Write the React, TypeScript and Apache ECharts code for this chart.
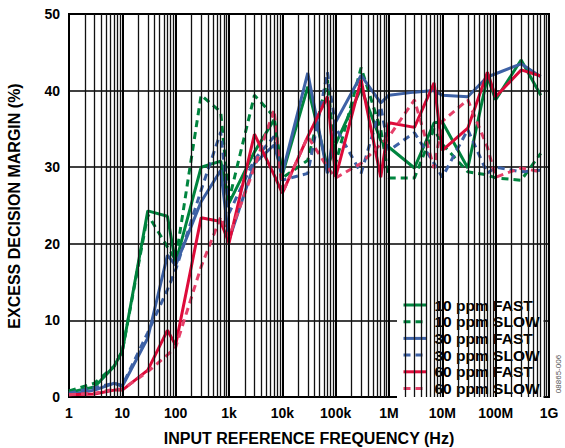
import React, { useEffect, useRef } from "react";
import * as echarts from "echarts";

const FREQS = [1, 3, 7, 10, 30, 70, 100, 300, 700, 1e3, 3e3, 7e3, 1e4, 3e4, 7e4, 1e5, 3e5, 7e5, 1e6, 3e6, 7e6, 1e7, 3e7, 7e7, 1e8, 3e8, 7e8];

const PPM10_FAST = [0.6, 1.3, 4, 6, 24.3, 23.6, 17.5, 30, 30.8, 25.3, 32, 36.2, 29, 40.5, 30, 33, 40.3, 33.5, 32.6, 29.9, 35.8, 35.9, 29.9, 41.8, 38.8, 44, 39.4];
const PPM10_SLOW = [0.8, 1.8, 4, 6, 23.8, 19.6, 17.9, 39.4, 37.2, 25.7, 39.4, 36.6, 28.6, 30.9, 41.4, 30.5, 43, 34.9, 28.6, 28.6, 35, 33, 29.4, 29, 28.6, 28.3, 31.8];
const PPM30_FAST = [0.3, 0.9, 1.8, 1.4, 7.7, 18.5, 17.2, 25.5, 29.6, 20.5, 30.5, 32.9, 29.2, 42.3, 29.2, 35.9, 42, 38.4, 39.4, 39.8, 40, 39.4, 39.2, 41.8, 42.2, 43.5, 41.8];
const PPM30_SLOW = [0.5, 1.2, 1.8, 1.5, 8.4, 14, 16.6, 27, 34.6, 24, 31, 34, 28.3, 29.2, 42.4, 35.2, 29.2, 37.9, 32.2, 34.5, 30.5, 28.7, 34.9, 29.2, 30, 29.4, 29.6];
const PPM60_FAST = [0.3, 0.4, 0.9, 0.9, 3.5, 8.7, 6.8, 23.4, 22.9, 20.1, 34.3, 29, 26.6, 34, 39.2, 28.7, 41.4, 28.7, 35.8, 35.2, 41, 32.2, 35.1, 42.4, 39.2, 42.7, 41.9];
const PPM60_SLOW = [0.3, 0.5, 1, 1, 3.3, 5.5, 6.5, 17, 23.5, 20.9, 30, 37.5, 26.6, 34, 30, 28.6, 30.5, 33, 34, 38.8, 29.9, 36, 38.8, 32.6, 28.7, 29.9, 29.4];

const SERIES_NAMES = ["10 ppm FAST", "10 ppm SLOW", "30 ppm FAST", "30 ppm SLOW", "60 ppm FAST", "60 ppm SLOW"];
const X_TICK_LABELS = ["1", "10", "100", "1k", "10k", "100k", "1M", "10M", "100M", "1G"];
const Y_MIN = 0;
const Y_MAX = 50;
const Y_STEP = 10;

const FONT = "'Liberation Sans', Arial, Helvetica, sans-serif";

export default function App() {
  const ref = useRef<HTMLDivElement>(null);

  useEffect(() => {
    document.body.style.margin = "0";
    if (!ref.current) return;
    const chart = echarts.init(ref.current, null, { renderer: "svg" });

    const minorLines: any[] = [];
    const majorLines: any[] = [];
    for (let d = 0; d < 9; d++) {
      const base = Math.pow(10, d);
      for (let m = 2; m <= 9; m++) minorLines.push({ xAxis: m * base });
    }
    for (let d = 1; d < 9; d++) majorLines.push({ xAxis: Math.pow(10, d) });

    const green = "#00853f";
    const blue = "#3e62a6";
    const red = "#de0b3a";
    const redLight = "#e6416a";

    const mk = (name: string, vals: number[], color: string, dashed: boolean) => ({
      name,
      type: "line",
      data: FREQS.map((f, i) => [f, vals[i]]),
      symbol: "none",
      showSymbol: false,
      lineStyle: { color, width: 3, type: dashed ? [7, 5] : "solid" },
      itemStyle: { color },
      z: 3,
    });

    const option: any = {
      animation: false,
      backgroundColor: "#fff",
      grid: {
        left: 69,
        right: 16,
        top: 14,
        bottom: 51,
        show: true,
        borderColor: "#000",
        borderWidth: 2,
        backgroundColor: "transparent",
      },
      xAxis: {
        type: "log",
        logBase: 10,
        min: 1,
        max: 1e9,
        splitNumber: 9,
        axisLine: { show: false },
        axisTick: { show: false },
        splitLine: { show: false },
        axisLabel: {
          color: "#000",
          fontSize: 14,
          fontWeight: "bold",
          fontFamily: FONT,
          margin: 9,
          hideOverlap: false,
          showMinLabel: true,
          showMaxLabel: true,
          formatter: (v: number) => X_TICK_LABELS[Math.round(Math.log10(v))] ?? "",
        },
      },
      yAxis: {
        type: "value",
        min: Y_MIN,
        max: Y_MAX,
        interval: Y_STEP,
        axisLine: { show: false },
        axisTick: { show: false },
        splitLine: { show: true, lineStyle: { color: "#000", width: 1.5 } },
        axisLabel: {
          color: "#000",
          fontSize: 14,
          fontWeight: "bold",
          fontFamily: FONT,
          margin: 9,
        },
      },
      legend: {
        data: SERIES_NAMES,
        orient: "vertical",
        left: 397,
        top: 293,
        padding: [4, 4, 6, 5],
        itemWidth: 23,
        itemHeight: 15,
        itemGap: 0.7,
        backgroundColor: "#fff",
        itemStyle: { opacity: 0 },
        lineStyle: { width: 3 },
        textStyle: {
          color: "#000",
          fontSize: 15.5,
          fontWeight: "bold",
          fontFamily: FONT,
          padding: [0, 0, 0, 3],
        },
        selectedMode: false,
      },
      graphic: [
        {
          type: "text",
          x: 14,
          y: 206,
          rotation: Math.PI / 2,
          style: {
            text: "EXCESS DECISION MARGIN (%)",
            fill: "#000",
            font: `bold 16px ${FONT}`,
            align: "center",
            verticalAlign: "middle",
          },
        },
        {
          type: "text",
          x: 309,
          y: 438,
          style: {
            text: "INPUT REFERENCE FREQUENCY (Hz)",
            fill: "#000",
            font: `bold 16px ${FONT}`,
            align: "center",
            verticalAlign: "middle",
          },
        },
        {
          type: "text",
          x: 558,
          y: 374,
          rotation: Math.PI / 2,
          style: {
            text: "08865-006",
            fill: "#555",
            font: `8px ${FONT}`,
            align: "center",
            verticalAlign: "middle",
          },
        },
      ],
      series: [
        {
          type: "line",
          data: [[1, -10]],
          symbol: "none",
          showSymbol: false,
          lineStyle: { opacity: 0 },
          silent: true,
          z: 1,
          markLine: {
            silent: true,
            symbol: ["none", "none"],
            label: { show: false },
            emphasis: { disabled: true },
            data: [
              ...minorLines.map((d) => ({ ...d, lineStyle: { color: "#111", width: 1.3, type: "solid" } })),
              ...majorLines.map((d) => ({ ...d, lineStyle: { color: "#000", width: 2, type: "solid" } })),
            ],
          },
        },
        mk(SERIES_NAMES[0], PPM10_FAST, green, false),
        mk(SERIES_NAMES[1], PPM10_SLOW, green, true),
        mk(SERIES_NAMES[2], PPM30_FAST, blue, false),
        mk(SERIES_NAMES[3], PPM30_SLOW, blue, true),
        mk(SERIES_NAMES[4], PPM60_FAST, red, false),
        mk(SERIES_NAMES[5], PPM60_SLOW, redLight, true),
      ],
    };

    chart.setOption(option);
    return () => chart.dispose();
  }, []);

  return <div ref={ref} style={{ width: 565, height: 448 }} />;
}
